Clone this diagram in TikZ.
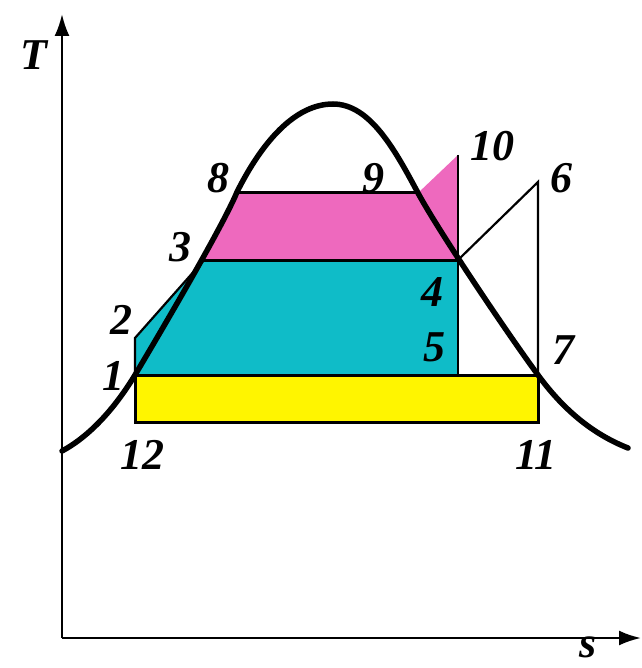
\documentclass[tikz,border=0pt]{standalone}
\usepackage{fontspec}
\setmainfont{Liberation Serif}
\usetikzlibrary{arrows.meta}
\definecolor{pinkfill}{RGB}{238,105,190}
\definecolor{cyanfill}{RGB}{15,188,200}
\definecolor{yellowfill}{RGB}{255,245,0}
\begin{document}
\begin{tikzpicture}[x=1pt,y=-1pt,
  lbl/.style={font=\fontsize{44}{44}\selectfont\bfseries\itshape, inner sep=0pt},
  edge/.style={line width=3pt},
  thinedge/.style={line width=2.2pt},
  axis/.style={line width=2.5pt,-{Latex[length=22pt,width=15pt]}},
  dome/.style={line width=5.5pt}]
\useasboundingbox (0,0) rectangle (641,668);
\coordinate (p1) at (135,375);
\coordinate (p2) at (135,338);
\coordinate (p3) at (204,260);
\coordinate (p4) at (458,260);
\coordinate (p5) at (458,375);
\coordinate (p6) at (538,182);
\coordinate (p7) at (538,375);
\coordinate (p8) at (237,193);
\coordinate (p9) at (418,193);
\coordinate (p10) at (458,155);
\coordinate (p11) at (538,422);
\coordinate (p12) at (135,422);
\coordinate (origin) at (62,638);
\coordinate (ytip) at (62,14);
\coordinate (xtip) at (641,638);
\coordinate (peak) at (333,104);
\coordinate (dl) at (62,451);
\coordinate (dr) at (628,448);
% fills
\fill[yellowfill] (p1) rectangle (p11);
\fill[cyanfill] (p1) -- (p2) -- (p3) -- (p4) -- (p5) -- cycle;
\fill[pinkfill] (p3) -- (p8) -- (p9) -- (p10) -- (p4) -- cycle;
% edges
\draw[edge] (p1) -- (p7) -- (p11) -- (p12) -- cycle;
\draw[thinedge] (p1) -- (p2) -- (p3);
\draw[edge] (p3) -- (p4);
\draw[edge] (p8) -- (p9);
\draw[thinedge] (p10) -- (p4) -- (p5);
\draw[thinedge] (p4) -- (p6) -- (p7);
% dome
\draw[dome, line cap=round, line join=round]
  (dl) .. controls (90,436) and (115,408) .. (p1)
       .. controls (160,333) and (223,226) .. (237,192)
       .. controls (262,142) and (295,104) .. (peak)
       .. controls (370,104) and (395,150) .. (418,193)
       .. controls (438,230) and (505,330) .. (p7)
       .. controls (565,412) and (595,435) .. (dr);
% axes
\draw[axis] (origin) -- (ytip);
\draw[axis] (origin) -- (xtip);
% labels
\node[lbl] (lT) at (34,55) {T};
\node[lbl] (ls) at (588,647) {s};
\node[lbl] (l8) at (218,178) {8};
\node[lbl] (l9) at (373,178) {9};
\node[lbl] (l10) at (492,146) {10};
\node[lbl] (l6) at (561,178) {6};
\node[lbl] (l3) at (180,247) {3};
\node[lbl] (l4) at (432,292) {4};
\node[lbl] (l2) at (121,320) {2};
\node[lbl] (l5) at (434,347) {5};
\node[lbl] (l1) at (113,376) {1};
\node[lbl] (l7) at (563,350) {7};
\node[lbl] (l12) at (142,455) {12};
\node[lbl] (l11) at (536,455) {11};
\end{tikzpicture}
\end{document}
